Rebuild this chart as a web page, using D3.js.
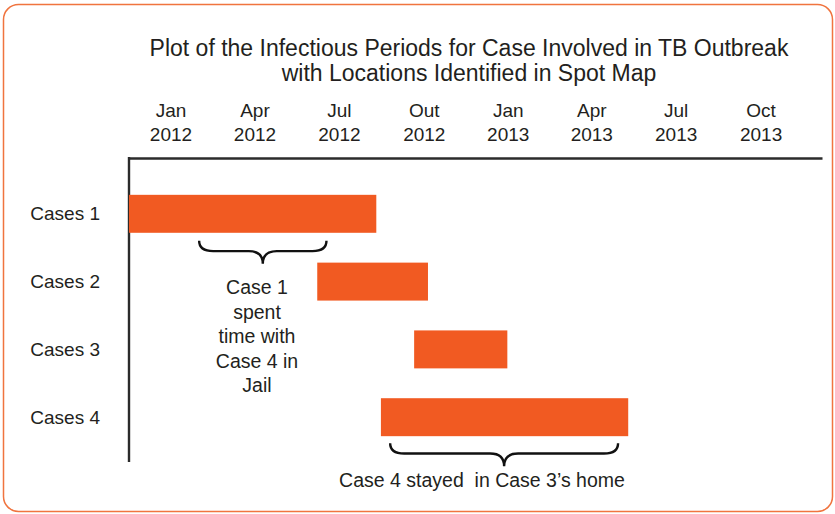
<!DOCTYPE html>
<html>
<head>
<meta charset="utf-8">
<script src="https://cdn.jsdelivr.net/npm/d3@7"></script>
<style>
  body { margin: 0; background: #fff; }
  svg { display: block; font-family: "Liberation Sans", Arial, Helvetica, sans-serif; }
</style>
</head>
<body>
<svg id="svg" width="835" height="514"></svg>
<script>
// chart data
var cases = ["Cases 1", "Cases 2", "Cases 3", "Cases 4"];
var startDates = ["2012-01-01", "2012-07-23", "2012-11-05", "2012-09-30"];
var endDates = ["2012-09-25", "2012-11-20", "2013-02-14", "2013-06-25"];

// quarter labels (month / year)
var quarterStarts = ["2012-01-01", "2012-04-01", "2012-07-01", "2012-10-01",
                     "2013-01-01", "2013-04-01", "2013-07-01", "2013-10-01"];
var quarterMonths = ["Jan", "Apr", "Jul", "Out", "Jan", "Apr", "Jul", "Oct"];
var quarterYears = ["2012", "2012", "2012", "2012", "2013", "2013", "2013", "2013"];

// annotations: brace spans + text
var noteStarts = ["2012-03-17", "2012-10-10"];
var noteEnds = ["2012-08-02", "2013-06-14"];
var noteLines = [["Case 1", "spent", "time with", "Case 4 in", "Jail"],
                 ["Case 4 stayed  in Case 3\u2019s home"]];

var parse = d3.timeParse("%Y-%m-%d");
var orange = "#f15a22";
var ink = "#231f20";

var svg = d3.select("#svg");

// frame
svg.append("rect")
    .attr("x", 3.5).attr("y", 4.5)
    .attr("width", 829).attr("height", 507)
    .attr("rx", 15).attr("ry", 15)
    .attr("fill", "none")
    .attr("stroke", "#f0743f")
    .attr("stroke-width", 1.5);

// title
svg.append("text")
    .attr("x", 469).attr("y", 56)
    .attr("text-anchor", "middle")
    .attr("font-size", 23)
    .attr("fill", ink)
    .text("Plot of the Infectious Periods for Case Involved in TB Outbreak");
svg.append("text")
    .attr("x", 469).attr("y", 81)
    .attr("text-anchor", "middle")
    .attr("font-size", 23)
    .attr("fill", ink)
    .text("with Locations Identified in Spot Map");

// scales
var x = d3.scaleTime()
    .domain([parse("2012-01-01"), parse("2014-01-21")])
    .range([129, 822]);

var y = d3.scaleBand()
    .domain(cases)
    .range([165, 466])
    .padding(0.44);

// top axis line
var axis = svg.append("g")
    .attr("transform", "translate(0,158)")
    .call(d3.axisTop(x).tickValues([]).tickSizeOuter(0));
axis.select(".domain")
    .attr("stroke", "#2b2b2b")
    .attr("stroke-width", 2.6);

// left axis line
svg.append("line")
    .attr("x1", 129).attr("x2", 129)
    .attr("y1", 157).attr("y2", 462)
    .attr("stroke", "#2b2b2b")
    .attr("stroke-width", 2.4);

// quarter labels, centred in each quarter
var quarters = quarterStarts.map(function(d, i) {
  var s = parse(d);
  var e = d3.timeMonth.offset(s, 3);
  return {mid: (x(s) + x(e)) / 2, month: quarterMonths[i], year: quarterYears[i]};
});

var qLabel = svg.append("g").selectAll("text")
    .data(quarters)
    .enter().append("text")
      .attr("text-anchor", "middle")
      .attr("font-size", 19)
      .attr("fill", ink);
qLabel.append("tspan")
    .attr("x", function(d) { return d.mid; })
    .attr("y", 117)
    .text(function(d) { return d.month; });
qLabel.append("tspan")
    .attr("x", function(d) { return d.mid; })
    .attr("y", 141)
    .text(function(d) { return d.year; });

// bars
svg.append("g").selectAll("rect")
    .data(cases)
    .enter().append("rect")
      .attr("x", function(d, i) { return x(parse(startDates[i])); })
      .attr("y", function(d) { return y(d); })
      .attr("width", function(d, i) { return x(parse(endDates[i])) - x(parse(startDates[i])); })
      .attr("height", y.bandwidth())
      .attr("fill", orange);

// case labels
svg.append("g").selectAll("text")
    .data(cases)
    .enter().append("text")
      .attr("x", 100)
      .attr("y", function(d) { return y(d) + y.bandwidth() / 2; })
      .attr("dy", "0.35em")
      .attr("text-anchor", "end")
      .attr("font-size", 19)
      .attr("fill", ink)
      .text(function(d) { return d; });

// curly brace opening downwards
function brace(x1, x2, top, depth) {
  var xm = (x1 + x2) / 2,
      ym = top + depth * 0.45,
      r = 14;
  return "M" + x1 + "," + top +
    "Q" + x1 + "," + ym + " " + (x1 + r) + "," + ym +
    "L" + (xm - r) + "," + ym +
    "Q" + xm + "," + ym + " " + xm + "," + (top + depth) +
    "Q" + xm + "," + ym + " " + (xm + r) + "," + ym +
    "L" + (x2 - r) + "," + ym +
    "Q" + x2 + "," + ym + " " + x2 + "," + top;
}

// brace 1 sits under Cases 1, brace 2 under Cases 4
var braceTops = [y(cases[0]) + y.bandwidth() + 8, y(cases[3]) + y.bandwidth() + 7];
var noteTextY = [294, 487];
var noteTextX = [257, 482];

noteStarts.forEach(function(d, i) {
  var x1 = x(parse(d)), x2 = x(parse(noteEnds[i]));
  svg.append("path")
      .attr("d", brace(x1, x2, braceTops[i], 23))
      .attr("fill", "none")
      .attr("stroke", "#111")
      .attr("stroke-width", 2.4);

  var t = svg.append("text")
      .attr("text-anchor", "middle")
      .attr("font-size", 19.5)
      .attr("fill", ink)
      .style("white-space", "pre");
  noteLines[i].forEach(function(line, j) {
    t.append("tspan")
        .attr("x", noteTextX[i])
        .attr("y", noteTextY[i] + j * 24.5)
        .text(line);
  });
});
</script>
</body>
</html>
